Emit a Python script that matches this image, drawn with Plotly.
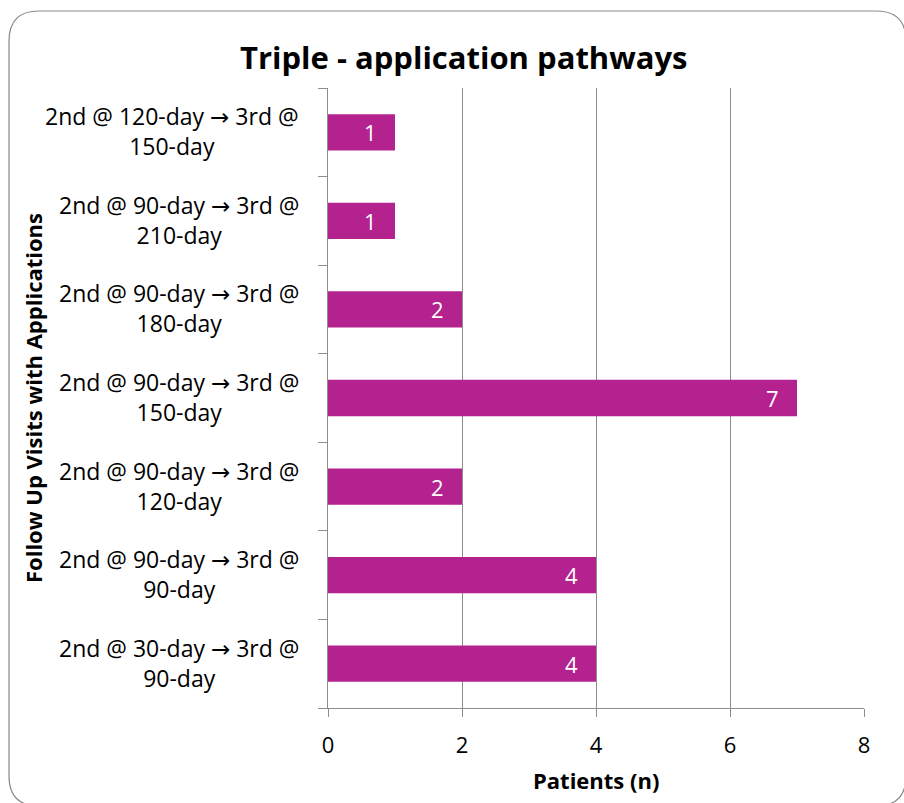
import plotly.graph_objects as go

# Pathway categories, bottom to top
categories = [
    "2nd @ 30-day → 3rd @<br>90-day",
    "2nd @ 90-day → 3rd @<br>90-day",
    "2nd @ 90-day → 3rd @<br>120-day",
    "2nd @ 90-day → 3rd @<br>150-day",
    "2nd @ 90-day → 3rd @<br>180-day",
    "2nd @ 90-day → 3rd @<br>210-day",
    "2nd @ 120-day → 3rd @<br>150-day",
]
patients = [4, 4, 2, 7, 2, 1, 1]
x_ticks = [0, 2, 4, 6, 8]

W, H = 904, 803
ML, MR, MT, MB = 328, 40, 88, 95
PW, PH = W - ML - MR, H - MT - MB

FONT = "Open Sans"
BAR = "#B3228F"
GRID = "#8C8C8C"


def px(xp):
    return (xp - ML) / PW


def py(yp):
    return (H - MB - yp) / PH


def styled(label):
    # arrow drawn from a font with a full-size glyph for it
    return label.replace("→", '<span style="font-family:DejaVu Sans">→</span>')


fig = go.Figure(
    go.Bar(
        x=patients,
        y=categories,
        orientation="h",
        marker=dict(color=BAR, line=dict(width=0)),
        hoverinfo="skip",
    )
)

annotations = []
# category labels, lines centred within a right-aligned block
for c in categories:
    annotations.append(dict(
        x=px(301), xref="paper", y=c, yref="y", text=styled(c), showarrow=False,
        xanchor="right", yanchor="middle", align="center", yshift=1,
        font=dict(family=FONT, size=23, color="#000000"),
    ))
# value labels inside the bar ends
for c, v in zip(categories, patients):
    annotations.append(dict(
        x=v, xref="x", y=c, yref="y", text=str(v), showarrow=False,
        xanchor="right", yanchor="middle", xshift=-16,
        font=dict(family=FONT, size=22, color="#FFFFFF"),
    ))
# titles
annotations += [
    dict(x=px(464), y=py(57), xref="paper", yref="paper", showarrow=False,
         text="<b>Triple - application pathways</b>", xanchor="center", yanchor="middle",
         font=dict(family=FONT, size=31, color="#000000")),
    dict(x=px(596), y=py(780), xref="paper", yref="paper", showarrow=False,
         text="<b>Patients (n)</b>", xanchor="center", yanchor="middle",
         font=dict(family=FONT, size=22, color="#000000")),
    dict(x=px(33), y=py(398), xref="paper", yref="paper", showarrow=False,
         text="<b>Follow Up Visits with Applications</b>", textangle=-90,
         xanchor="center", yanchor="middle",
         font=dict(family=FONT, size=22, color="#000000")),
]

# rounded outer frame
x0, y0, x1, y1 = px(9), py(11), px(906), py(806)
rx, ry = 30 / PW, 30 / PH
frame = (
    f"M {x0 + rx} {y0} L {x1 - rx} {y0} Q {x1} {y0} {x1} {y0 - ry} "
    f"L {x1} {y1 + ry} Q {x1} {y1} {x1 - rx} {y1} "
    f"L {x0 + rx} {y1} Q {x0} {y1} {x0} {y1 + ry} "
    f"L {x0} {y0 - ry} Q {x0} {y0} {x0 + rx} {y0} Z"
)

fig.update_layout(
    width=W, height=H,
    margin=dict(l=ML, r=MR, t=MT, b=MB),
    paper_bgcolor="#FFFFFF", plot_bgcolor="#FFFFFF",
    bargap=0.59,
    showlegend=False,
    annotations=annotations,
    shapes=[dict(type="path", path=frame, xref="paper", yref="paper",
                 line=dict(color="#8A8A8A", width=1.2), layer="below")],
    xaxis=dict(
        range=[0, 8], tickvals=x_ticks, ticktext=[str(t) for t in x_ticks],
        showgrid=True, gridcolor=GRID, gridwidth=1, zeroline=False,
        showline=True, linecolor=GRID, linewidth=1,
        ticks="outside", ticklen=8, tickcolor=GRID,
        tickfont=dict(family=FONT, size=22, color="#000000"),
        ticklabelstandoff=10, fixedrange=True,
    ),
    yaxis=dict(
        categoryorder="array", categoryarray=categories,
        showticklabels=False, showgrid=False, zeroline=False,
        showline=True, linecolor=GRID, linewidth=1,
        ticks="outside", ticklen=9, tickcolor=GRID, tickson="boundaries",
        fixedrange=True,
    ),
)

fig.write_html("out.html", config={"displayModeBar": False})
